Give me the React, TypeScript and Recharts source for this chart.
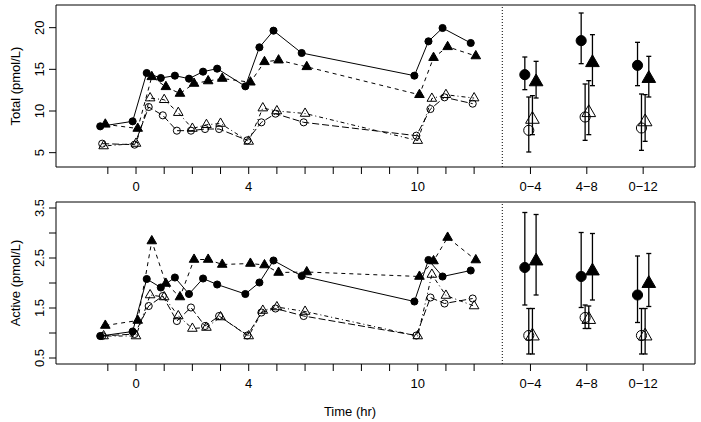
import React from 'react';
import { ComposedChart, Scatter, XAxis, YAxis, ErrorBar, ReferenceLine, ReferenceArea, Label } from 'recharts';

// sampling times (hr)
const times = [-1.15, 0, 0.5, 1, 1.5, 2, 2.5, 3, 4, 4.5, 5, 6, 10, 10.5, 11, 12];

// Total (pmol/L) time courses
const totalFilledCircle = [8.16, 8.76, 14.56, 13.96, 14.24, 13.88, 14.72, 15.08, 12.96, 17.64, 19.64, 16.96, 14.24, 18.36, 19.96, 18.16];
const totalFilledTriangle = [8.4, 7.9, 14.1, 12.9, 12.1, 13.3, 13.6, 13.9, 13.45, 15.9, 16.1, 15.3, 11.95, 16.4, 17.7, 16.6];
const totalOpenCircle = [6.08, 5.96, 10.48, 9.48, 7.64, 7.64, 7.84, 7.84, 6.48, 8.64, 9.68, 8.64, 7.04, 10.24, 11.64, 10.88];
const totalOpenTriangle = [5.8, 6.1, 11.55, 11.35, 9.8, 7.9, 8.35, 8.5, 6.35, 10.35, 10.0, 9.7, 6.45, 11.5, 11.95, 11.55];

// Active (pmol/L) time courses
const activeFilledCircle = [0.94, 1.03, 2.08, 1.91, 2.11, 1.78, 2.09, 1.97, 1.78, 2.01, 2.45, 2.14, 1.63, 2.46, 2.13, 2.25];
const activeFilledTriangle = [1.15, 1.25, 2.84, 1.99, 1.72, 2.47, 2.47, 2.37, 2.39, 2.36, 2.21, 2.22, 2.13, 2.44, 2.91, 2.46];
const activeOpenCircle = [0.94, 0.98, 1.54, 1.74, 1.24, 1.51, 1.14, 1.34, 0.95, 1.41, 1.49, 1.34, 0.95, 1.71, 1.59, 1.69];
const activeOpenTriangle = [0.94, 0.94, 1.76, 1.72, 1.34, 1.09, 1.11, 1.32, 0.94, 1.45, 1.52, 1.43, 0.94, 2.17, 1.75, 1.54];

// summary periods
const periods = ['0−4', '4−8', '0−12'];
const periodX = [14, 16, 18];

// Total summaries: mean, lower, upper
const totalMeanFC = [14.36, 18.44, 15.48];
const totalLoFC = [12.56, 15.68, 13.04];
const totalHiFC = [16.48, 21.76, 18.24];
const totalMeanFT = [13.5, 15.8, 13.9];
const totalLoFT = [11.56, 13.04, 11.68];
const totalHiFT = [15.96, 19.16, 16.56];
const totalMeanOC = [7.68, 9.28, 7.96];
const totalLoOC = [5.08, 6.48, 5.28];
const totalHiOC = [11.68, 13.24, 12.04];
const totalMeanOT = [9.0, 9.8, 8.7];
const totalLoOT = [7.16, 7.16, 6.36];
const totalHiOT = [11.84, 13.64, 11.96];

// Active summaries: mean, lower, upper
const activeMeanFC = [2.31, 2.13, 1.76];
const activeLoFC = [1.56, 1.51, 1.21];
const activeHiFC = [3.41, 3.01, 2.54];
const activeMeanFT = [2.44, 2.24, 1.99];
const activeLoFT = [1.76, 1.66, 1.53];
const activeHiFT = [3.37, 2.99, 2.59];
const activeMeanOC = [0.95, 1.31, 0.95];
const activeLoOC = [0.58, 1.09, 0.58];
const activeHiOC = [1.49, 1.56, 1.49];
const activeMeanOT = [0.94, 1.27, 0.94];
const activeLoOT = [0.58, 1.09, 0.58];
const activeHiOT = [1.49, 1.54, 1.49];

const timeTicks = [-1, 0, 1, 2, 3, 4, 5, 6, 7, 8, 9, 10, 11, 12];
const timeLabels = [0, 4, 10];
const totalTicks = [5, 10, 15, 20];
const totalTickLabels = [5, 10, 15, 20];
const activeTicks = [0.5, 1, 1.5, 2, 2.5, 3, 3.5];
const activeTickLabels = [0.5, 1.5, 2.5, 3.5];

const FONT = 'Liberation Sans, Arial, Helvetica, sans-serif';
const X_DOMAIN: [number, number] = [-2.84, 19.84];

type Kind = { shape: 'circle' | 'triangle'; filled: boolean; dash?: string; dodge: number; sumDodge: number };

const KINDS: Kind[] = [
  { shape: 'circle', filled: true, dash: undefined, dodge: -0.12, sumDodge: -0.2 },
  { shape: 'triangle', filled: true, dash: '4 4', dodge: 0.06, sumDodge: 0.2 },
  { shape: 'circle', filled: false, dash: '7 3', dodge: -0.05, sumDodge: -0.06 },
  { shape: 'triangle', filled: false, dash: '1 3 4 3', dodge: 0, sumDodge: 0.07 },
];

const marker = (k: Kind, s: number) => (props: any) => {
  const { cx, cy } = props;
  if (cx == null || cy == null) return <g />;
  const fill = k.filled ? '#000' : 'none';
  if (k.shape === 'circle') {
    return <circle cx={cx} cy={cy} r={0.375 * s} fill={fill} stroke="#000" strokeWidth={1} />;
  }
  const up = 0.583 * s;
  const down = 0.292 * s;
  const hw = 0.505 * s;
  return (
    <polygon
      points={`${cx},${cy - up} ${cx + hw},${cy + down} ${cx - hw},${cy + down}`}
      fill={fill}
      stroke="#000"
      strokeWidth={1}
    />
  );
};

const xTickText = (v: number) => {
  const gi = periodX.indexOf(v);
  if (gi >= 0) return periods[gi];
  return timeLabels.includes(v) ? String(v) : '';
};

const XTick = (props: any) => {
  const { x, y, payload } = props;
  const txt = xTickText(payload.value);
  if (!txt) return <g />;
  return (
    <text x={x} y={y + 10} textAnchor="middle" fontSize={13} fontFamily={FONT} fill="#000">
      {txt}
    </text>
  );
};

const makeYTick = (labels: number[]) => (props: any) => {
  const { x, y, payload } = props;
  if (!labels.includes(payload.value)) return <g />;
  return (
    <text x={x} y={y} transform={`rotate(-90 ${x} ${y})`} textAnchor="middle" fontSize={13} fontFamily={FONT} fill="#000">
      {String(payload.value)}
    </text>
  );
};

type PanelProps = {
  height: number;
  marginTop: number;
  xAxisHeight: number;
  yDomain: [number, number];
  yTicks: number[];
  yTickLabels: number[];
  yTitle: string;
  lines: number[][];
  means: number[][];
  los: number[][];
  his: number[][];
  xTitle?: string;
};

const Panel = (p: PanelProps) => {
  return (
    <ComposedChart width={701} height={p.height} margin={{ top: p.marginTop, right: 6, bottom: 0, left: 0 }}>
      <XAxis
        type="number"
        dataKey="x"
        domain={X_DOMAIN}
        allowDataOverflow
        ticks={[...timeTicks, ...periodX]}
        interval={0}
        tickSize={7}
        tickMargin={7}
        axisLine={false}
        height={p.xAxisHeight}
        tick={XTick}
        tickLine={{ stroke: '#000' }}
      >
        {p.xTitle && (
          <Label
            content={() => (
              <text x={350} y={p.height - 6} textAnchor="middle" fontSize={13} fontFamily={FONT} fill="#000">
                {p.xTitle}
              </text>
            )}
          />
        )}
      </XAxis>
      <YAxis
        type="number"
        dataKey="y"
        domain={p.yDomain}
        allowDataOverflow
        ticks={p.yTicks}
        interval={0}
        width={56}
        tickSize={7}
        tickMargin={5}
        axisLine={false}
        tick={makeYTick(p.yTickLabels)}
        tickLine={{ stroke: '#000' }}
      >
        <Label
          content={(lp: any) => {
            const vb = lp.viewBox || { x: 0, y: p.marginTop, width: 56, height: 160 };
            const cx = 20;
            const cy = vb.y + vb.height / 2;
            return (
              <text x={cx} y={cy} transform={`rotate(-90 ${cx} ${cy})`} textAnchor="middle" fontSize={13} fontFamily={FONT} fill="#000">
                {p.yTitle}
              </text>
            );
          }}
        />
      </YAxis>
      <ReferenceArea
        x1={X_DOMAIN[0]}
        x2={X_DOMAIN[1]}
        y1={p.yDomain[0]}
        y2={p.yDomain[1]}
        fill="none"
        stroke="#000"
        strokeWidth={1}
        ifOverflow="visible"
      />
      <ReferenceLine x={13} stroke="#000" strokeDasharray="1 2" strokeWidth={1} />
      {KINDS.map((k, si) => (
        <Scatter
          key={`line-${si}`}
          data={times.map((t, i) => ({ x: t + k.dodge, y: p.lines[si][i] }))}
          line={{ stroke: '#000', strokeWidth: 1, strokeDasharray: k.dash }}
          lineType="joint"
          shape={marker(k, 9.5)}
          isAnimationActive={false}
        />
      ))}
      {KINDS.map((k, si) => (
        <Scatter
          key={`sum-${si}`}
          data={periodX.map((gx, i) => ({
            x: gx + k.sumDodge,
            y: p.means[si][i],
            err: [p.means[si][i] - p.los[si][i], p.his[si][i] - p.means[si][i]],
          }))}
          shape={marker(k, 13.5)}
          isAnimationActive={false}
        >
          <ErrorBar dataKey="err" direction="y" width={2.5} stroke="#000" strokeWidth={1.3} isAnimationActive={false} />
        </Scatter>
      ))}
    </ComposedChart>
  );
};

export default function App() {
  return (
    <div style={{ position: 'absolute', left: 0, top: 0, width: 701, height: 422, background: '#fff' }}>
      <div style={{ position: 'absolute', left: 0, top: 0 }}>
        <Panel
          height={200}
          marginTop={5}
          xAxisHeight={33}
          yDomain={[3.28, 22.72]}
          yTicks={totalTicks}
          yTickLabels={totalTickLabels}
          yTitle="Total (pmol/L)"
          lines={[totalFilledCircle, totalFilledTriangle, totalOpenCircle, totalOpenTriangle]}
          means={[totalMeanFC, totalMeanFT, totalMeanOC, totalMeanOT]}
          los={[totalLoFC, totalLoFT, totalLoOC, totalLoOT]}
          his={[totalHiFC, totalHiFT, totalHiOC, totalHiOT]}
        />
      </div>
      <div style={{ position: 'absolute', left: 0, top: 200 }}>
        <Panel
          height={222}
          marginTop={2}
          xAxisHeight={58}
          yDomain={[0.38, 3.62]}
          yTicks={activeTicks}
          yTickLabels={activeTickLabels}
          yTitle="Active (pmol/L)"
          lines={[activeFilledCircle, activeFilledTriangle, activeOpenCircle, activeOpenTriangle]}
          means={[activeMeanFC, activeMeanFT, activeMeanOC, activeMeanOT]}
          los={[activeLoFC, activeLoFT, activeLoOC, activeLoOT]}
          his={[activeHiFC, activeHiFT, activeHiOC, activeHiOT]}
          xTitle="Time (hr)"
        />
      </div>
    </div>
  );
}
